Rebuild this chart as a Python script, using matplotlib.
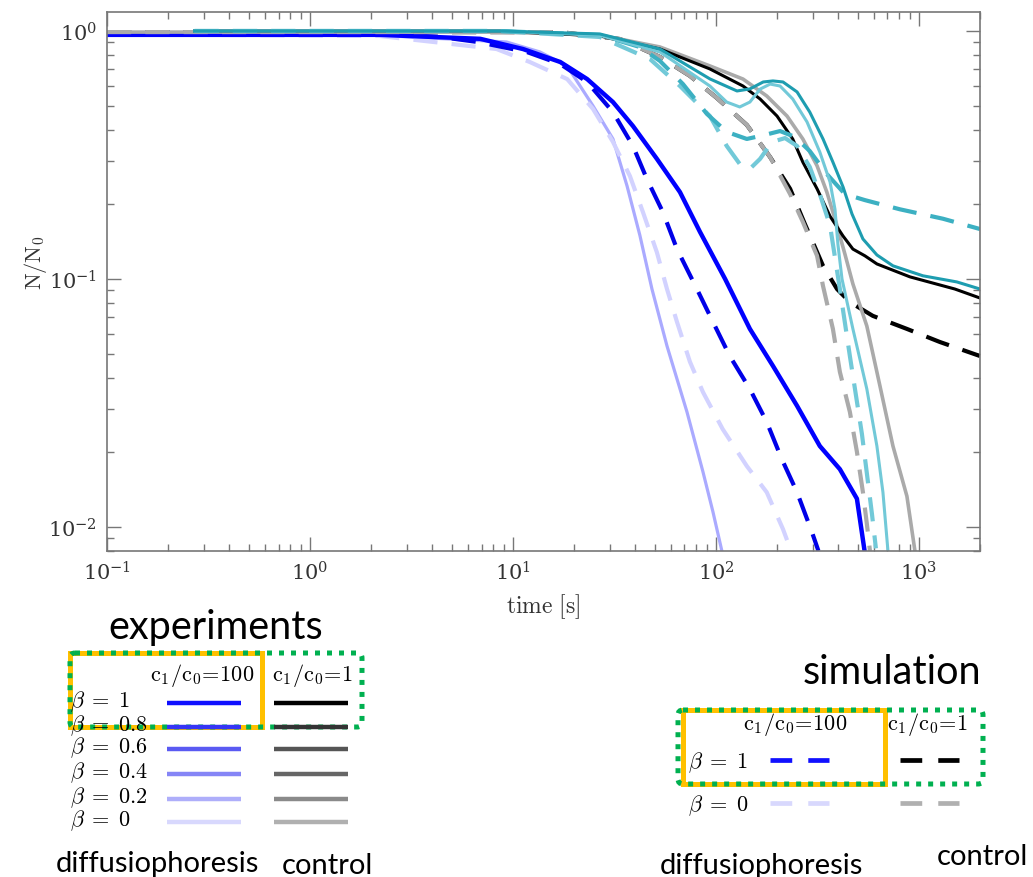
import matplotlib.pyplot as plt
from matplotlib.patches import Rectangle, FancyBboxPatch

plt.rcParams['mathtext.fontset'] = 'cm'
plt.rcParams['font.family'] = ['DejaVu Serif']

# --- données (temps en s, N/N0) ---

# expériences, c1/c0 = 100 (diffusiophorèse)
t_exp_dp_b1 = [0.1, 2.2, 6.9, 11.2, 17.1, 23.2, 31.1, 39.0, 51.2, 66.5, 83.4, 111, 147, 191, 251, 325, 408, 495, 540]
N_exp_dp_b1 = [0.965, 0.965, 0.93, 0.846, 0.75, 0.64, 0.517, 0.414, 0.305, 0.224, 0.155, 0.100, 0.0629, 0.0446, 0.0308, 0.0212, 0.0171, 0.013, 0.008]

t_exp_dp_b0 = [0.1, 2.2, 9.3, 13.6, 18.5, 24.8, 31.1, 36.5, 42.2, 48.4, 57.4, 72.0, 86.3, 96.7, 107]
N_exp_dp_b0 = [0.965, 0.96, 0.903, 0.823, 0.722, 0.499, 0.367, 0.237, 0.150, 0.0911, 0.0537, 0.0291, 0.0167, 0.0115, 0.008]

# expériences, c1/c0 = 1 (contrôle)
t_exp_ct_b1 = [0.27, 8.6, 26.8, 53, 93.4, 136, 165, 200, 239, 268, 315, 365, 423, 473, 542, 621, 903, 1504, 2000]
N_exp_ct_b1 = [1.0, 1.0, 0.955, 0.846, 0.703, 0.600, 0.532, 0.454, 0.367, 0.296, 0.231, 0.179, 0.149, 0.132, 0.124, 0.115, 0.102, 0.0911, 0.0838]

t_exp_ct_b0 = [0.1, 8.6, 26.8, 53, 93.4, 136, 178, 224, 268, 315, 352, 395, 432, 473, 554, 643, 745, 873, 956]
N_exp_ct_b0 = [0.99, 0.99, 0.963, 0.862, 0.723, 0.640, 0.547, 0.454, 0.367, 0.286, 0.224, 0.164, 0.126, 0.0955, 0.0646, 0.037, 0.0212, 0.0133, 0.008]

# expériences supplémentaires (cyan)
t_exp_cy_1 = [0.27, 8.6, 26.8, 53, 93.4, 127, 147, 171, 191, 214, 251, 290, 337, 377, 423, 468, 530, 621, 745, 1047, 1538, 2000]
N_exp_cy_1 = [1.0, 1.0, 0.973, 0.846, 0.641, 0.573, 0.584, 0.623, 0.629, 0.623, 0.568, 0.471, 0.367, 0.296, 0.235, 0.183, 0.145, 0.125, 0.113, 0.103, 0.0973, 0.0911]

t_exp_cy_2 = [0.27, 8.6, 26.8, 53, 93.4, 113, 131, 147, 165, 185, 207, 239, 281, 325, 365, 386, 399, 418, 473, 554, 621, 665, 704]
N_exp_cy_2 = [1.0, 1.0, 0.96, 0.823, 0.600, 0.517, 0.494, 0.517, 0.583, 0.611, 0.600, 0.532, 0.430, 0.325, 0.246, 0.191, 0.138, 0.100, 0.0629, 0.036, 0.0212, 0.0138, 0.008]

# simulations, c1/c0 = 100
t_sim_dp_b1 = [0.1, 2.0, 4.4, 6.7, 11.7, 17.1, 23.2, 31.1, 39.0, 45.7, 54.8, 64.3, 80.6, 96.7, 117, 147, 178, 211, 251, 297, 320]
N_sim_dp_b1 = [0.99, 0.985, 0.946, 0.903, 0.823, 0.736, 0.623, 0.471, 0.344, 0.253, 0.186, 0.132, 0.0911, 0.0671, 0.0489, 0.036, 0.0265, 0.0188, 0.0138, 0.00955, 0.008]

t_sim_dp_b0 = [0.1, 2.2, 8.3, 12.1, 18.5, 24.8, 31.1, 37.7, 43.7, 51.2, 57.4, 64.3, 74.5, 86.3, 108, 142, 178, 214, 232]
N_sim_dp_b0 = [0.97, 0.955, 0.846, 0.750, 0.640, 0.485, 0.357, 0.260, 0.186, 0.128, 0.0911, 0.0671, 0.0463, 0.035, 0.0248, 0.0176, 0.0138, 0.0098, 0.0082]

# simulations, c1/c0 = 1
t_sim_ct_b1 = [0.1, 17.1, 33.7, 53, 74.5, 101, 142, 185, 232, 274, 337, 395, 457, 593, 873, 1269, 2000]
N_sim_ct_b1 = [0.99, 0.99, 0.928, 0.786, 0.659, 0.537, 0.418, 0.310, 0.231, 0.167, 0.113, 0.0911, 0.0807, 0.071, 0.0629, 0.0557, 0.0489]

t_sim_ct_b0 = [0.1, 17.1, 33.7, 53, 74.5, 101, 142, 185, 232, 268, 315, 337, 377, 408, 457, 495, 530, 554, 574]
N_sim_ct_b0 = [0.99, 0.99, 0.928, 0.786, 0.659, 0.537, 0.418, 0.310, 0.220, 0.170, 0.124, 0.0937, 0.0629, 0.0422, 0.0291, 0.0201, 0.0138, 0.0103, 0.008]

# simulations supplémentaires (cyan)
t_sim_cy_1 = [0.27, 8.6, 26.8, 42.2, 53, 68.8, 90.3, 113, 142, 174, 207, 245, 290, 352, 432, 542, 806, 1313, 2000]
N_sim_cy_1 = [1.0, 1.0, 0.963, 0.862, 0.757, 0.611, 0.463, 0.392, 0.367, 0.381, 0.395, 0.374, 0.328, 0.265, 0.220, 0.208, 0.191, 0.175, 0.159]

t_sim_cy_2 = [0.27, 8.6, 26.8, 47.3, 66.5, 93.4, 113, 131, 147, 165, 189, 219, 251, 290, 325, 365, 408, 457, 524, 587, 614]
N_sim_cy_2 = [1.0, 1.0, 0.946, 0.771, 0.600, 0.454, 0.344, 0.291, 0.278, 0.305, 0.357, 0.370, 0.344, 0.283, 0.220, 0.164, 0.0911, 0.0489, 0.0237, 0.0113, 0.0082]

# légendes
beta_exp = ['1', '0.8', '0.6', '0.4', '0.2', '0']
beta_sim = ['1', '0']
col_dp = ['#1010ff', '#3535f5', '#5a5af2', '#8585f6', '#aeaefa', '#d8d8fd']
col_ct = ['#000000', '#333333', '#555555', '#666666', '#8a8a8a', '#b0b0b0']

dash = (5.8, 3.4)

# Crée la figure
fig = plt.figure(figsize=(10.33, 8.78), dpi=100)
ax = fig.add_axes([107 / 1033, 1 - 552 / 878, 873 / 1033, 539 / 878])
ax.set_xscale('log')
ax.set_yscale('log')

# courbes
ax.plot(t_sim_ct_b1, N_sim_ct_b1, color='black', lw=3, dashes=dash)
ax.plot(t_exp_dp_b0, N_exp_dp_b0, color='#aaaaff', lw=2.3)
ax.plot(t_sim_dp_b0, N_sim_dp_b0, color='#d2d2ff', lw=3, dashes=dash)
ax.plot(t_sim_dp_b1, N_sim_dp_b1, color='#0000e8', lw=3, dashes=dash)
ax.plot(t_exp_dp_b1, N_exp_dp_b1, color='#0000ff', lw=3.2)
ax.plot(t_sim_ct_b0, N_sim_ct_b0, color='#aaaaaa', lw=3, dashes=dash)
ax.plot(t_exp_ct_b0, N_exp_ct_b0, color='#aaaaaa', lw=2.6)
ax.plot(t_exp_ct_b1, N_exp_ct_b1, color='black', lw=2.2)
ax.plot(t_sim_cy_2, N_sim_cy_2, color='#72c9d8', lw=3, dashes=dash)
ax.plot(t_sim_cy_1, N_sim_cy_1, color='#3cb0c2', lw=3, dashes=dash)
ax.plot(t_exp_cy_2, N_exp_cy_2, color='#72c9d8', lw=2.2)
ax.plot(t_exp_cy_1, N_exp_cy_1, color='#1e9db0', lw=2.2)

ax.set_xlim(0.1, 2000)
ax.set_ylim(0.008, 1.193)

for s in ax.spines.values():
    s.set_color('#777777')
    s.set_linewidth(1.2)
ax.tick_params(which='both', direction='in', top=True, right=True, color='#777777',
               labelcolor='#333333', labelsize=15)
ax.tick_params(which='major', length=10, width=1.0, pad=7)
ax.tick_params(which='minor', length=5, width=1.0)

ax.set_xlabel(r'$\mathrm{time\ [s]}$', fontsize=17, color='#333333')
ax.xaxis.set_label_coords(0.5, -0.075)
ax.set_ylabel(r'$\mathrm{N/N_0}$', fontsize=16, color='#333333')
ax.yaxis.set_label_coords(-0.066, 0.536)

# calque pour les légendes (coordonnées en pixels)
lg = fig.add_axes([0, 0, 1, 1])
lg.set_xlim(0, 1033)
lg.set_ylim(878, 0)
lg.axis('off')
lg.patch.set_alpha(0)

sans = 'Lato'
orange = '#ffc000'
green = '#00b050'

# légende des expériences
lg.text(216, 628, 'experiments', family=sans, fontsize=28.5, ha='center', va='center')
lg.text(202, 676, r'$\mathrm{c_1/c_0\!=\!100}$', fontsize=16, ha='center', va='center')
lg.text(313, 676, r'$\mathrm{c_1/c_0\!=\!1}$', fontsize=16, ha='center', va='center')
rows_exp = [702, 726, 748, 773, 798, 821]
for b, cd, cc, y in zip(beta_exp, col_dp, col_ct, rows_exp):
    lg.text(70, y, r'$\beta\;=\;%s$' % b, fontsize=16, ha='left', va='center')
    lg.plot([167, 241], [y + 2, y + 2], color=cd, lw=3.2, solid_capstyle='butt')
    lg.plot([274, 348], [y + 2, y + 2], color=cc, lw=3.2, solid_capstyle='butt')
lg.add_patch(Rectangle((70, 654), 192, 74, fill=False, ec=orange, lw=3.6))
lg.add_patch(FancyBboxPatch((70, 654), 292, 74, boxstyle='round,pad=0,rounding_size=5',
                            fill=False, ec=green, lw=3.6, ls=(0, (1, 1.4))))
lg.text(157, 864, 'diffusiophoresis', family=sans, fontsize=21, ha='center', va='center')
lg.text(327, 866, 'control', family=sans, fontsize=21, ha='center', va='center')

# légende des simulations
lg.text(892, 673, 'simulation', family=sans, fontsize=28.5, ha='center', va='center')
lg.text(795, 725, r'$\mathrm{c_1/c_0\!=\!100}$', fontsize=16, ha='center', va='center')
lg.text(928, 725, r'$\mathrm{c_1/c_0\!=\!1}$', fontsize=16, ha='center', va='center')
rows_sim = [761, 804]
for b, cd, cc, y in zip(beta_sim, [col_dp[0], col_dp[-1]], [col_ct[0], col_ct[-1]], rows_sim):
    lg.text(688, y + 2, r'$\beta\;=\;%s$' % b, fontsize=16, ha='left', va='center')
    lg.plot([770, 829], [y, y], color=cd, lw=3.4, dashes=(4.6, 3.4))
    lg.plot([900, 959], [y, y], color=cc, lw=3.4, dashes=(4.6, 3.4))
lg.add_patch(Rectangle((683, 711), 202, 74, fill=False, ec=orange, lw=3.6))
lg.add_patch(FancyBboxPatch((678, 711), 305, 74, boxstyle='round,pad=0,rounding_size=5',
                            fill=False, ec=green, lw=3.6, ls=(0, (1, 1.4))))
lg.text(761, 866, 'diffusiophoresis', family=sans, fontsize=21, ha='center', va='center')
lg.text(982, 857, 'control', family=sans, fontsize=21, ha='center', va='center')

fig.savefig('out.png', dpi=100)
